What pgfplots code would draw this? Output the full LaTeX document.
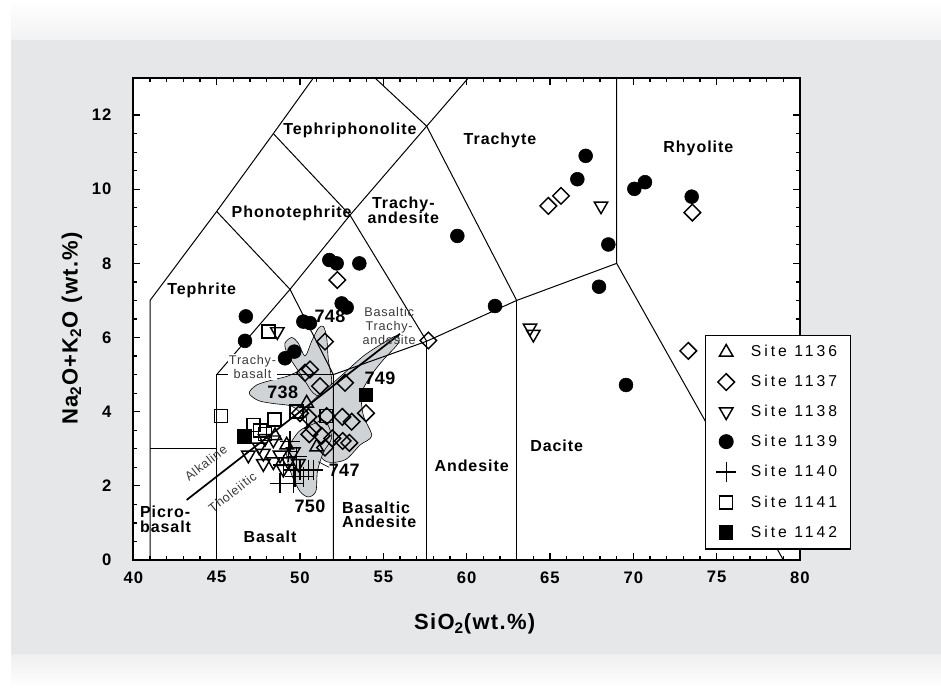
\documentclass[border=0pt]{standalone}
\usepackage{fontspec}
\setmainfont{Liberation Sans}[LetterSpace=2]
\newfontfamily\spaced{Liberation Sans}[LetterSpace=6]
\newfontfamily\wide{Liberation Sans}[LetterSpace=19]
\usepackage{pgfplots}
\pgfplotsset{compat=1.18}
\definecolor{panel}{HTML}{E6E7E8}
\definecolor{field}{HTML}{D0D3D5}
\definecolor{note}{HTML}{3A3A3A}

\begin{document}
\begin{tikzpicture}[x=0.75pt,y=0.75pt]
\useasboundingbox (0,0) rectangle (941,688);
% page background
\fill[white] (0,0) rectangle (941,688);
\shade[top color=white, bottom color=black!5] (11,648) rectangle (941,688);
\fill[panel] (11,33) rectangle (941,648);
\shade[top color=black!6, bottom color=white] (11,0) rectangle (941,33);

\begin{axis}[
  name=ax,
  at={(100pt,96pt)}, anchor=south west,
  scale only axis, width=500pt, height=361.5pt,
  xmin=40, xmax=80, ymin=0, ymax=13,
  xtick={40,45,...,80}, ytick={0,2,...,12},
  minor x tick num=4, minor y tick num=3,
  tick align=inside,
  major tick length=5pt, minor tick length=2.8pt,
  axis line style={line width=1.5pt},
  tick style={line width=0.9pt, black},
  axis background/.style={fill=white},
  /pgf/number format/assume math mode=true,
  ticklabel style={font=\spaced\bfseries\fontsize{12.5}{14}\selectfont},
  xticklabel style={yshift=-5pt},
  yticklabel style={xshift=-13pt},
  legend cell align=left,
  legend style={at={(0.8575,0.4668)}, anchor=north west,
    draw=black, line width=0.8pt, fill=white,
    font=\wide\fontsize{11.8}{13}\selectfont,
    row sep=8.3pt, inner xsep=8pt, inner ysep=5.5pt,
    /tikz/every odd column/.append style={column sep=9pt}},
]

% ---- reference fields (shaded) ----
\addplot[fill=field, draw=black, line width=0.45pt, smooth cycle, forget plot] coordinates {
 (46.95,4.5)(47.4,4.72)(48.3,4.85)(49.2,4.95)(50.0,5.1)(50.8,5.15)(51.6,5.0)(52.1,4.5)
 (51.9,3.9)(51.0,3.65)(50.2,3.9)(49.5,4.15)(48.4,4.22)(47.5,4.3)};
\addplot[fill=field, draw=black, line width=0.45pt, smooth cycle, forget plot] coordinates {
 (49.1,5.85)(49.5,6.0)(49.9,5.85)(50.3,5.5)(50.7,5.9)(51.1,6.25)(51.4,6.3)(51.6,6.0)
 (51.7,5.4)(51.9,4.8)(51.5,4.4)(50.8,4.5)(50.2,4.9)(49.6,5.3)(49.2,5.6)};
\addplot[fill=field, draw=black, line width=0.45pt, smooth cycle, forget plot] coordinates {
 (50.6,4.2)(51.8,4.7)(52.8,5.1)(53.8,5.5)(54.8,5.8)(55.8,6.05)(55.9,5.85)(55.0,5.4)
 (54.3,5.0)(53.7,4.5)(53.8,3.9)(54.3,3.35)(53.6,3.1)(52.7,2.7)(51.6,2.65)(50.9,3.0)(50.4,3.6)};
\addplot[fill=field, draw=black, line width=0.45pt, smooth cycle, forget plot] coordinates {
 (49.2,2.9)(49.5,2.3)(50.0,1.85)(50.5,1.7)(50.95,1.85)(51.05,2.4)(51.4,2.9)(51.9,3.3)
 (51.5,3.75)(50.7,3.65)(49.9,3.45)};

% ---- TAS classification boundaries ----
\pgfplotsset{tas/.style={black, line width=0.75pt, forget plot}}
\addplot[tas] coordinates {(41,0)(41,7)(45,9.4)(48.4,11.5)(50.8,13)};
\addplot[tas] coordinates {(41,3)(45,3)};
\addplot[tas] coordinates {(45,0)(45,5)(52,5)};
\addplot[tas] coordinates {(52,0)(52,5)(57.6,5.9)(63,7)(69,8)(69,13)};
\addplot[tas] coordinates {(57.6,0)(57.6,5.9)};
\addplot[tas] coordinates {(63,0)(63,7)};
\addplot[tas] coordinates {(69,8)(79,0)};
\addplot[tas] coordinates {(45,9.4)(49.4,7.3)(52,5)};
\addplot[tas] coordinates {(45,5)(49.4,7.3)(53,9.3)(57.6,11.7)(60.1,13)};
\addplot[tas] coordinates {(48.4,11.5)(53,9.3)(57.6,5.9)};
\addplot[tas] coordinates {(57.6,11.7)(63,7)};
\addplot[tas] coordinates {(57.6,11.7)(54.5,13)};
% alkaline / tholeiitic divide
\addplot[black, line width=1.3pt, forget plot] coordinates {(43.2,1.62)(56.0,6.1)};
% leader for field 747
\addplot[black, line width=0.5pt, forget plot] coordinates {(51.1,2.65)(51.75,2.5)};

% ---- field names ----
\begin{scope}[every node/.style={font=\spaced\bfseries\fontsize{12}{13}\selectfont}]
\node at (axis cs:53.0,11.6) {Tephriphonolite};
\node at (axis cs:49.5,9.35) {Phonotephrite};
\node[align=center] at (axis cs:56.2,9.44) {Trachy-\\[-2pt]andesite};
\node at (axis cs:44.1,7.26) {Tephrite};
\node at (axis cs:62.0,11.33) {Trachyte};
\node at (axis cs:73.9,11.1) {Rhyolite};
\node at (axis cs:65.4,3.07) {Dacite};
\node at (axis cs:60.3,2.53) {Andesite};
\node[align=left] at (axis cs:54.75,1.22) {Basaltic\\[-2pt]Andesite};
\node at (axis cs:48.2,0.62) {Basalt};
\node[align=left, anchor=west] at (axis cs:40.12,1.1) {Picro-\\[-2pt]basalt};
\end{scope}
\begin{scope}[every node/.style={font=\spaced\fontsize{9.5}{10.5}\selectfont, text=note}]
\node[align=center, fill=white, inner sep=1pt] at (axis cs:47.15,5.21) {Trachy-\\basalt};
\node[align=center] at (axis cs:55.35,6.31) {Basaltic\\Trachy-\\andesite};
\node[rotate=38] at (axis cs:44.35,2.62) {Alkaline};
\node[rotate=38] at (axis cs:45.95,1.83) {Tholeiitic};
\end{scope}
\begin{scope}[every node/.style={font=\bfseries\fontsize{13.5}{14}\selectfont}]
\node at (axis cs:51.8,6.57) {748};
\node at (axis cs:48.96,4.51) {738};
\node at (axis cs:54.8,4.91) {749};
\node at (axis cs:52.65,2.43) {747};
\node at (axis cs:50.6,1.46) {750};
\end{scope}

% ---- samples ----
\addplot[only marks, mark=triangle, mark size=5.8pt, mark options={fill=white, draw=black, line width=1.1pt}]
 coordinates {(50.4,4.23)(48.5,3.35)(51.0,3.05)(49.2,3.1)};
\addlegendentry{Site 1136}
\addplot[only marks, mark=square, mark size=4.4pt, mark options={rotate=45, fill=white, draw=black, line width=1.1pt}]
 coordinates {(52.24,7.55)(51.5,5.89)(50.6,5.14)(50.3,5.05)(51.2,4.69)(52.7,4.78)(53.96,3.96)
 (53.1,3.73)(52.54,3.86)(51.6,3.88)(50.5,3.86)(50.0,3.96)(50.56,3.39)(51.5,3.03)(51.94,3.28)
 (52.56,3.21)(52.96,3.16)(50.8,3.55)(51.3,3.35)(57.7,5.92)(64.9,9.55)(65.66,9.82)(73.54,9.37)(73.3,5.64)};
\addlegendentry{Site 1137}
\addplot[only marks, mark=triangle, mark size=5.8pt, mark options={rotate=180, fill=white, draw=black, line width=1.1pt}]
 coordinates {(48.64,6.16)(68.06,9.55)(63.8,6.26)(64.0,6.09)(46.9,2.83)(47.8,2.88)(47.55,3.05)
 (47.8,2.6)(48.4,2.65)(48.8,2.83)(49.3,2.65)(49.6,2.92)(48.4,3.24)(47.9,3.28)(49.9,2.6)(49.0,2.45)};
\addlegendentry{Site 1138}
\addplot[only marks, mark=*, mark size=5.2pt, mark options={fill=black, draw=black}]
 coordinates {(46.75,6.57)(46.7,5.91)(50.2,6.43)(50.6,6.39)(49.66,5.62)(49.1,5.44)(52.5,6.92)
 (52.8,6.81)(51.76,8.09)(52.2,8.0)(53.56,8.0)(67.14,10.9)(66.64,10.27)(59.44,8.74)(70.06,10.01)
 (70.7,10.19)(73.5,9.8)(68.5,8.51)(67.94,7.37)(69.56,4.72)(61.7,6.85)};
\addlegendentry{Site 1139}
\addplot[only marks, mark=+, mark size=7.5pt, mark options={draw=black, line width=1pt}]
 coordinates {(48.8,2.07)(49.6,2.07)(49.3,2.92)(49.6,2.43)(50.0,2.43)(50.5,2.43)(50.8,2.43)
 (49.8,2.79)(49.0,2.56)(49.7,2.25)(50.2,2.25)(49.4,3.2)};
\addlegendentry{Site 1140}
\addplot[only marks, mark=square, mark size=4.9pt, mark options={fill=white, draw=black, line width=1.1pt}]
 coordinates {(48.1,6.16)(45.26,3.89)(47.2,3.64)(48.46,3.79)(47.6,3.49)(49.8,4.0)(51.6,3.89)(47.9,3.4)};
\addlegendentry{Site 1141}
\addplot[only marks, mark=square*, mark size=5pt, mark options={fill=black, draw=black}]
 coordinates {(46.66,3.34)(53.94,4.45)};
\addlegendentry{Site 1142}
\end{axis}

\node[font=\spaced\bfseries\fontsize{16.5}{18}\selectfont] at ([xshift=6pt, yshift=-48pt]ax.south) {SiO\textsubscript{2}(wt.\%)};
\node[font=\spaced\bfseries\fontsize{16.5}{18}\selectfont, rotate=90] at ([xshift=-46pt, yshift=-7pt]ax.west) {Na\textsubscript{2}O+K\textsubscript{2}O (wt.\%)};
\end{tikzpicture}
\end{document}
